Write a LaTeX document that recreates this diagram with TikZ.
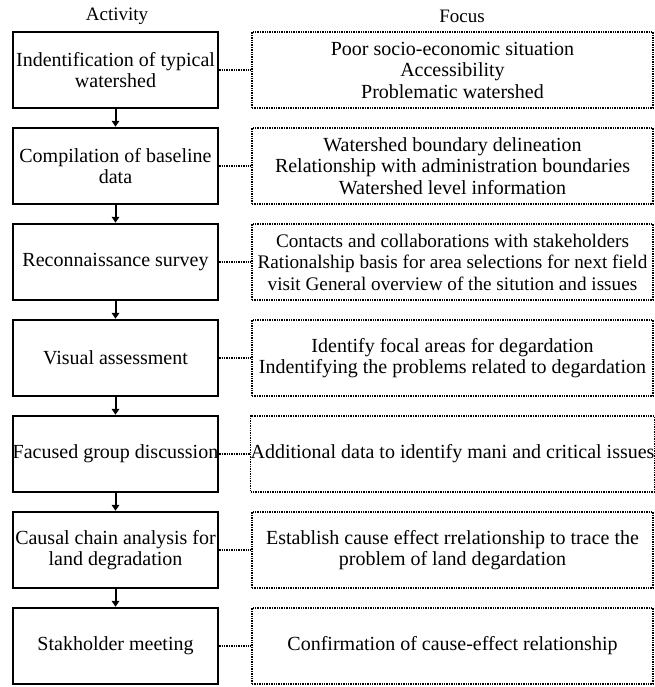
\documentclass[tikz,border=0pt]{standalone}
\usepackage{fontspec}
\setmainfont{Liberation Serif}
\usetikzlibrary{arrows.meta}
\begin{document}
\begin{tikzpicture}[x=1pt,y=-1pt,
  every node/.style={font=\fontsize{20}{21.5}\selectfont, align=center, inner sep=0pt},
  actbox/.style={draw, line width=2.4pt, minimum width=205pt, minimum height=76pt},
  focbox/.style={draw, densely dotted, line width=1.4pt, minimum width=401pt, minimum height=76pt},
  link/.style={densely dotted, line width=1.4pt},
  flow/.style={line width=2pt, -{Triangle[length=6pt,width=7.5pt]}},
  header/.style={font=\fontsize{19}{20}\selectfont}]
\useasboundingbox (0,0) rectangle (654,687);
\node[header] (hA) at (117,16) {Activity};
\node[header] (hF) at (462,16) {Focus};
% activities
\node[actbox] (a1) at (115.5,70) {Indentification of typical\\watershed};
\node[actbox] (a2) at (115.5,166) {Compilation of baseline\\data};
\node[actbox] (a3) at (115.5,262) {Reconnaissance survey};
\node[actbox] (a4) at (115.5,358) {Visual assessment};
\node[actbox] (a5) at (115.5,454) {Facused group discussion};
\node[actbox] (a6) at (115.5,550) {Causal chain analysis for\\land degradation};
\node[actbox] (a7) at (115.5,646) {Stakholder meeting};
% focus
\node[focbox] (f1) at (452.5,70) {Poor socio-economic situation\\Accessibility\\Problematic watershed};
\node[focbox] (f2) at (452.5,166) {Watershed boundary delineation\\Relationship with administration boundaries\\Watershed level information};
\node[focbox, font=\fontsize{19.2}{21.5}\selectfont] (f3) at (452.5,262) {Contacts and collaborations with stakeholders\\Rationalship basis for area selections for next field\\visit General overview of the sitution and issues};
\node[focbox] (f4) at (452.5,358) {Identify focal areas for degardation\\Indentifying the problems related to degardation};
\node[focbox] (f5) at (452.5,454) {Additional data to identify mani and critical issues};
\node[focbox] (f6) at (452.5,550) {Establish cause effect rrelationship to trace the\\problem of land degardation};
\node[focbox] (f7) at (452.5,646) {Confirmation of cause-effect relationship};
% connectors
\foreach \i in {1,...,7} { \draw[link] (a\i.east) -- (f\i.west); }
\foreach \i/\j in {1/2,2/3,3/4,4/5,5/6,6/7} { \draw[flow] (a\i.south) -- (a\j.north); }
\end{tikzpicture}
\end{document}
